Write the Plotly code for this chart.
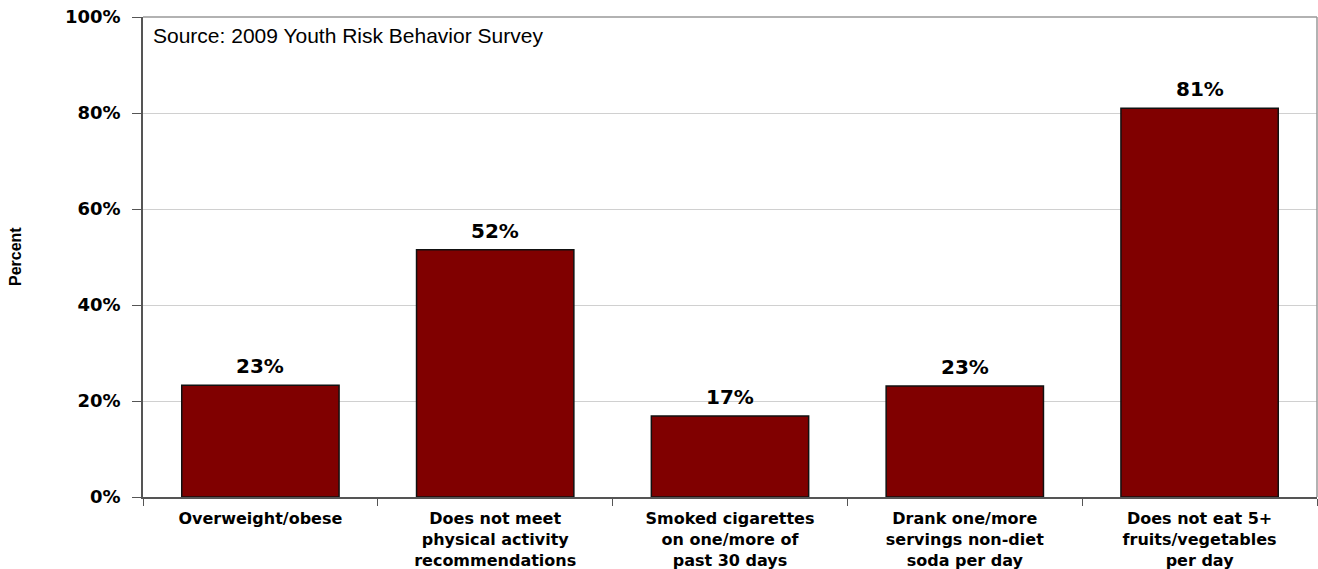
import plotly.graph_objects as go

categories = [
    "Overweight/obese",
    "Does not meet<br>physical activity<br>recommendations",
    "Smoked cigarettes<br>on one/more of<br>past 30 days",
    "Drank one/more<br>servings non-diet<br>soda per day",
    "Does not eat 5+<br>fruits/vegetables<br>per day",
]
values = [23.3, 51.5, 16.9, 23.1, 81.0]
labels = ["23%", "52%", "17%", "23%", "81%"]
y_ticks = [0, 20, 40, 60, 80, 100]

WIDE = "DejaVu Sans, Verdana, sans-serif"
PLAIN = "Liberation Sans, Arial, sans-serif"

fig = go.Figure()
fig.add_bar(
    x=categories, y=values, width=0.67, hoverinfo="y",
    marker={"color": "#800000", "line": {"color": "#111", "width": 1.5}},
)
# value labels sit a little higher above the bars than plotly's own outside text
for cat, val, lab in zip(categories, values, labels):
    fig.add_annotation(x=cat, y=val, text=f"<b>{lab}</b>", showarrow=False,
                       yanchor="bottom", yshift=5,
                       font={"size": 20, "family": WIDE, "color": "black"})

fig.add_annotation(
    text="Source: 2009 Youth Risk Behavior Survey", xref="paper", yref="paper",
    x=0, y=1, xanchor="left", yanchor="top", xshift=8, yshift=-5, showarrow=False,
    font={"size": 21, "color": "black", "family": PLAIN},
)
fig.add_annotation(
    text="<b>Percent</b>", xref="paper", yref="paper", x=0, y=0.5,
    xanchor="center", yanchor="middle", xshift=-128, textangle=-90, showarrow=False,
    font={"size": 16, "color": "black", "family": PLAIN},
)

fig.update_layout(
    width=1318, height=569,
    paper_bgcolor="white", plot_bgcolor="white",
    margin={"l": 143, "r": 1, "t": 17, "b": 72},
    font={"family": WIDE, "color": "black"},
    showlegend=False,
)
fig.update_xaxes(
    automargin=False,
    tickson="boundaries", ticks="outside", ticklen=7, tickcolor="#555",
    showline=True, linecolor="#555", linewidth=1.5, ticklabelstandoff=6,
    tickfont={"size": 16, "family": WIDE}, tickangle=0,
    tickprefix="<b>", ticksuffix="</b>",
)
fig.update_yaxes(
    automargin=False,
    range=[0, 100], tickvals=y_ticks, ticktext=[f"<b>{v}%</b>" for v in y_ticks],
    ticks="outside", ticklen=9, tickcolor="#555", ticklabelstandoff=8,
    ticklabeloverflow="allow",
    showline=True, linecolor="#555", linewidth=1.5,
    showgrid=True, gridcolor="#d0d0d0", gridwidth=1,
    tickfont={"size": 18, "family": WIDE},
)
# grey frame on top and right like the original plot box
fig.add_shape(type="line", xref="paper", yref="paper", x0=0, x1=1, y0=1, y1=1,
              line={"color": "#999", "width": 1.5})
fig.add_shape(type="line", xref="paper", yref="paper", x0=1, x1=1, y0=0, y1=1,
              line={"color": "#999", "width": 1.5})

# drop the browser's default body margin so the figure fills the window exactly
fig.write_html("out.html", config={"displayModeBar": False},
               post_script="document.body.style.margin='0';")
